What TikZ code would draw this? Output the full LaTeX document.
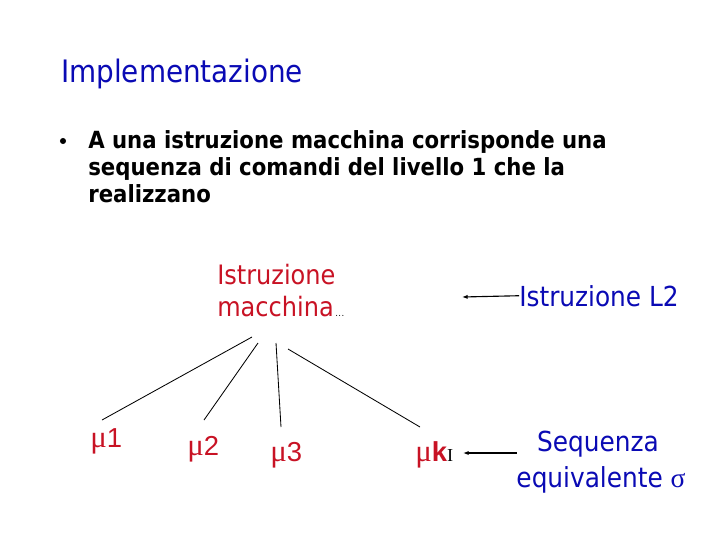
\documentclass[tikz,border=0pt]{standalone}
\usepackage{fontspec}
\usepackage{xcolor}
\usepackage{tikz}
\usetikzlibrary{arrows.meta}
\newfontfamily\tahomaf{DejaVu Sans Condensed}
\newfontfamily\arialf{Liberation Sans}
\newfontfamily\symf{Liberation Serif}
\definecolor{redL}{RGB}{200,18,36}
\definecolor{blueL}{RGB}{10,10,180}

\begin{document}
\begin{tikzpicture}[x=0.025cm, y=-0.025cm,
    txt/.style={anchor=base west, inner sep=0pt},
    titletext/.style={txt, text=blueL, font=\tahomaf\fontsize{22}{26}\selectfont},
    bullettext/.style={txt, font=\tahomaf\bfseries\fontsize{16.8}{20}\selectfont},
    redtext/.style={txt, text=redL, font=\tahomaf\fontsize{19}{22}\selectfont},
    bluetext/.style={txt, text=blueL, font=\tahomaf\fontsize{19.6}{22}\selectfont},
    mutext/.style={txt, text=redL, font=\arialf\fontsize{19.5}{22}\selectfont},
    bulletdot/.style={circle, fill=black, inner sep=0pt, minimum size=4.3pt},
    arr/.style={-{Latex[length=4pt,width=3pt]}, thick}]

\useasboundingbox (0,0) rectangle (720,540);

% heading and bullet
\node[titletext] (title) at (61,82) {Implementazione};
\node[bulletdot] (dot) at (63,141) {};
\node[bullettext] (line1) at (88,148) {A una istruzione macchina corrisponde una};
\node[bullettext] (line2) at (88,175) {sequenza di comandi del livello 1 che la};
\node[bullettext] (line3) at (88,202) {realizzano};

% the instruction and its micro commands
\node[redtext] (istr) at (217,284) {Istruzione};
\node[redtext] (macch) at (217,316) {macchina};
\node[txt, font=\scriptsize, right=0.5pt] (dots) at (macch.base east) {...};

\node[mutext] (m1) at (90,447) {{\symf\fontsize{22}{22}\selectfont μ}1};
\node[mutext] (m2) at (187,455) {{\symf\fontsize{22}{22}\selectfont μ}2};
\node[mutext] (m3) at (270,461) {{\symf\fontsize{22}{22}\selectfont μ}3};
\node[mutext] (mk) at (415,461) {{\symf\fontsize{22}{22}\selectfont μ}{\bfseries k}{\color{black}\symf\fontsize{13}{13}\selectfont I}};

\coordinate (top1) at (252,337);
\coordinate (top2) at (258,343);
\coordinate (top3) at (276,343);
\coordinate (top4) at (288,349);
\coordinate (bot1) at (102,420);
\coordinate (bot2) at (204,420);
\coordinate (bot3) at (281,427);
\coordinate (bot4) at (420,427);
\foreach \i in {1,...,4}
  \draw[line width=0.6pt] (top\i) -- (bot\i);

% labels on the right
\node[bluetext] (l2) at (519,306) {Istruzione L2};
\coordinate (l2tip) at (462,297);
\draw[arr] (l2.west) -- (l2tip);

\node[bluetext, anchor=base, align=center] (seq) at (598,451) {Sequenza};
\node[bluetext, anchor=base, align=center] (equiv) at (601,487) {equivalente {\symf σ}};
\coordinate (mktip) at (463,453);
\draw[arr] (seq.west |- mktip) ++(-20,0) -- (mktip);

\end{tikzpicture}
\end{document}
